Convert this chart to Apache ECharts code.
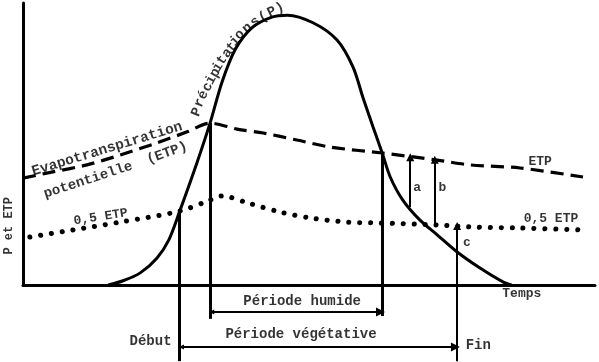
<!DOCTYPE html>
<html><head><meta charset="utf-8">
<script src="https://cdn.jsdelivr.net/npm/echarts@6/dist/echarts.min.js"></script>
<style>html,body{margin:0;padding:0;background:#fff}#c{width:599px;height:362px}</style>
</head><body><div id="c"></div>
<script>
// ---- data (time units 0..100, P/ETP units 0..100) ----
const precipitation = [[14.9,0],[17.5,1.5],[20.5,4.3],[23.4,9.5],[25.5,16],[27.4,26.2],[30.4,43.3],[32.7,57.4],[34.8,72],[37.1,83.5],[40.0,91.2],[43.5,95.0],[46.2,95.7],[50.7,93.0],[54.9,86.9],[57.7,77.3],[59.4,66.7],[61.2,56.0],[62.8,46.8],[64.2,38.3],[66.4,30.1],[69.4,23.0],[72.4,17.8],[75.9,11.7],[79.9,6.0],[83.9,1.1],[85.4,0]];
const etp = [[0,37.9],[5.2,40.1],[11.2,42.6],[17.0,46.1],[23.4,50.4],[28.7,54.3],[32.7,57.4],[37.4,55.3],[42.0,53.9],[47.9,51.4],[53.7,48.9],[62.8,46.8],[72.4,44.3],[78.1,42.6],[86.9,41.5],[97.9,38.3]];
const halfEtp = [[1.2,17.0],[8.7,19.5],[17.0,22.3],[27.4,26.2],[32.7,30.1],[34.8,31.6],[39.3,29.1],[44.9,25.9],[50.2,23.8],[56.6,22.3],[62.4,22.0],[72.4,21.3],[78.1,20.6],[86.9,20.2],[98.6,19.5]];
// key times and levels
const debut = 27.4, humideStart = 32.7, humideEnd = 62.8, fin = 75.9;
const arrowA = {x:67.7, from:27.7, to:45.3};
const arrowB = {x:72.0, from:21.3, to:44.4};
const arrowC = {x:75.9, from:11.7, to:20.9};
const periodHumideLevel = -9.6, periodVegLevel = -22.0;
const lowLimit = -27, humideLow = -12;
const labels = {yName:'P et ETP', xName:'Temps', etp:'ETP', half:'0,5 ETP', evapo:'Evapotranspiration', pot:'potentielle', etpPar:'(ETP)', precip:'Précipitations(P)', humide:'Période humide', veg:'Période végétative', debut:'Début', fin:'Fin', a:'a', b:'b', c:'c'};

// ---- layout of annotations ----
const FONT = '"Liberation Mono", "DejaVu Sans Mono", monospace';
function lab(x, y, text, rot, size) {
  return {value:[x,y], label:{formatter:text, rotate:rot||0, fontSize:size||14}};
}
const precipChars = labels.precip.split('');
const precipPos = [[30.4,61.3,68],[30.9,64.5,67],[31.5,67.4,66],[32.3,70.2,64],[32.9,72.7,62],[33.6,75.2,60],[34.1,77.3,58],[34.8,79.8,55],[35.7,82.3,52],[36.5,84.4,49],[37.1,86.5,46],[37.9,88.7,43],[39.2,91.1,39],[40.6,93.3,35],[42.0,95.0,30],[43.5,96.8,25],[44.9,98.2,22]];
const textItems = [
  lab(-2.4, 21, labels.yName, 90, 12),
  lab(87.2, -3.2, labels.xName, 0, 13),
  lab(90.4, 43.6, labels.etp, 0, 13),
  lab(92.3, 23.4, labels.half, 0, 13),
  lab(13.6, 24.1, labels.half, 9, 13),
  lab(14.7, 48.2, labels.evapo, 17, 14.5),
  lab(11.4, 37.2, labels.pot, 18, 14),
  lab(25.2, 46.8, labels.etpPar, 20, 14),
  lab(48.8, -5.7, labels.humide, 0, 14),
  lab(48.6, -17.7, labels.veg, 0, 14),
  lab(22.3, -20.2, labels.debut, 0, 14),
  lab(79.6, -21.6, labels.fin, 0, 14),
  lab(68.9, 34.4, labels.a, 0, 13),
  lab(73.3, 34.4, labels.b, 0, 13),
  lab(77.6, 14.9, labels.c, 0, 13)
];
precipChars.forEach((ch,i)=>{ const p = precipPos[i]; textItems.push(lab(p[0], p[1], ch, p[2], 14)); });

const chart = echarts.init(document.getElementById('c'), null, {renderer:'canvas'});
const axisCommon = {type:'value', min:0, max:100, axisLabel:{show:false}, axisTick:{show:false}, splitLine:{show:false},
  axisLine:{show:true, onZero:false, lineStyle:{color:'#000', width:3}}};
chart.setOption({
  animation:false,
  backgroundColor:'#fff',
  grid:{left:23, right:4, top:3, bottom:77},
  xAxis:Object.assign({}, axisCommon),
  yAxis:Object.assign({}, axisCommon),
  series:[
    {type:'line', data:precipitation, smooth:0.3, showSymbol:false, clip:false,
     lineStyle:{color:'#000', width:3}},
    {type:'line', data:etp, smooth:0.3, showSymbol:false, clip:false,
     lineStyle:{color:'#000', width:3.2, type:[13,7]}},
    {type:'line', data:halfEtp, smooth:0.3, showSymbol:false, clip:false,
     lineStyle:{color:'#000', width:5, type:[0.1,10.8], cap:'round'}},
    {type:'lines', coordinateSystem:'cartesian2d', clip:false, symbol:['none','none'],
     lineStyle:{color:'#000', width:3, opacity:1},
     data:[
       {coords:[[debut,26.2],[debut,lowLimit]]},
       {coords:[[humideStart,57.4],[humideStart,humideLow]]},
       {coords:[[humideEnd,46.8],[humideEnd,humideLow+1]]}
     ]},
    {type:'lines', coordinateSystem:'cartesian2d', clip:false, symbol:['none','triangle'], symbolSize:[5,8],
     lineStyle:{color:'#000', width:2, opacity:1},
     data:[
       {coords:[[arrowA.x,arrowA.from],[arrowA.x,arrowA.to]]},
       {coords:[[arrowB.x,arrowB.from],[arrowB.x,arrowB.to]]},
       {coords:[[arrowC.x,lowLimit],[arrowC.x,arrowC.to]]}
     ]},
    {type:'lines', coordinateSystem:'cartesian2d', clip:false, symbol:['triangle','triangle'], symbolSize:[5,9],
     lineStyle:{color:'#000', width:2, opacity:1},
     data:[
       {coords:[[humideStart+0.3,periodHumideLevel],[humideEnd-0.3,periodHumideLevel]]},
       {coords:[[debut+0.3,periodVegLevel],[fin-0.3,periodVegLevel]]}
     ]},
    {type:'scatter', data:textItems, symbolSize:0, clip:false, silent:true,
     label:{show:true, position:'inside', color:'#000', fontFamily:FONT, fontWeight:'bold', align:'center', verticalAlign:'middle'}}
  ]
});
</script></body></html>
